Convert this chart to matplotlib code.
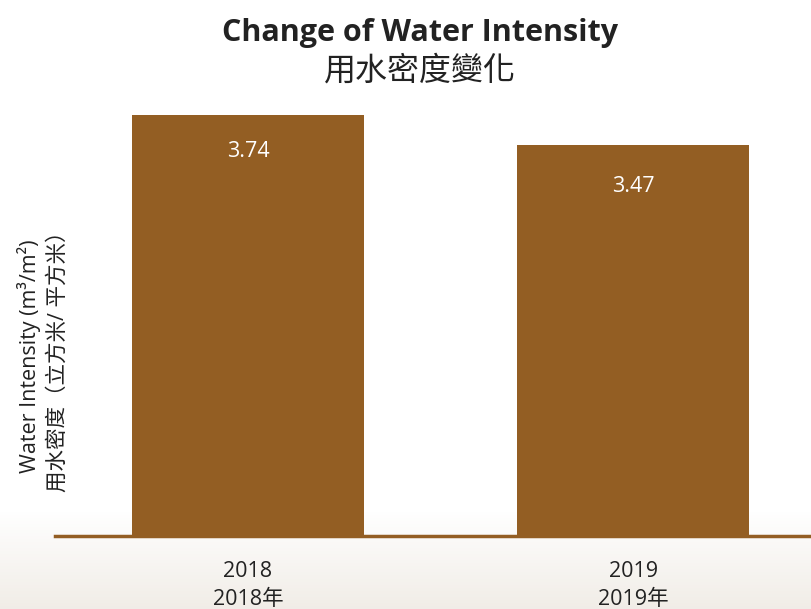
import numpy as np
import matplotlib.pyplot as plt

years = ['2018', '2019']
year_labels = ['2018\n2018年', '2019\n2019年']
intensity = [3.74, 3.47]

plt.rcParams['font.family'] = ['Open Sans', 'Noto Sans CJK TC', 'DejaVu Sans']

bar_color = '#935E23'
text_color = '#222222'

fig = plt.figure(figsize=(8.11, 6.09), dpi=100)

# soft beige gradient toward the bottom of the figure
bg = fig.add_axes([0, 0, 1, 1], zorder=-10)
grad = np.ones((200, 1, 3))
t = np.linspace(0, 1, 200)
shade = np.clip((t - 0.84) / 0.16, 0, 1)[:, None]
beige = np.array([0.945, 0.929, 0.906])
grad[:, 0, :] = (1 - shade) + shade * beige
bg.imshow(grad, aspect='auto', extent=[0, 1, 0, 1], origin='upper')
bg.set_axis_off()

ax = fig.add_axes([55 / 811, 73 / 609, 1 - 55 / 811, 436 / 609])
ax.patch.set_alpha(0)
x = np.arange(len(years))
bars = ax.bar(x, intensity, width=0.603, color=bar_color, zorder=2)

for i, v in enumerate(intensity):
    ax.text(x[i], v - 0.33 - (0.04 if i == 1 else 0), f'{v:.2f}', ha='center', va='center',
            color='white', fontsize=15.5)

ax.set_xlim(-0.501, 1.462)
ax.set_ylim(0, 3.87)
ax.set_xticks(x)
ax.set_xticklabels(year_labels, fontsize=15.5, color=text_color, linespacing=1.45)
ax.tick_params(axis='x', length=0, pad=18)
ax.set_yticks([])
for s in ['top', 'right', 'left']:
    ax.spines[s].set_visible(False)
ax.spines['bottom'].set_color(bar_color)
ax.spines['bottom'].set_linewidth(2.5)

fig.text(0.053, 0.415, 'Water Intensity (m³/m²)\n用水密度（立方米/ 平方米）',
         rotation=90, ha='center', va='center', fontsize=15.5, color=text_color,
         linespacing=1.4)

fig.text(0.518, 0.946, 'Change of Water Intensity', ha='center', va='center',
         fontsize=22, fontweight='bold', color=text_color)
fig.text(0.518, 0.883, '用水密度變化', ha='center', va='center',
         fontsize=23, color=text_color)

fig.savefig('out.png', dpi=100)
plt.close(fig)
